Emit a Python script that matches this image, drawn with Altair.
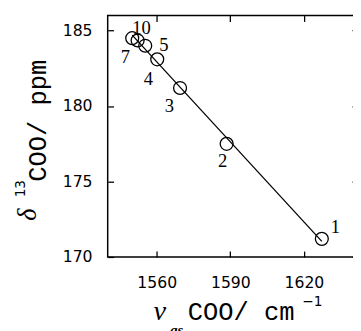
import altair as alt
import pandas as pd

# ---- data ----
compounds = ["1", "2", "3", "4", "5", "7", "10"]
nu_as = [1627.3, 1588.5, 1569.5, 1560.2, 1555.3, 1550.0, 1552.2]
delta13c = [171.2, 177.5, 181.2, 183.1, 184.0, 184.5, 184.35]

x_ticks = [1560, 1590, 1620]
y_ticks = [170, 175, 180, 185]
x_domain = [1540, 1642]
y_domain = [170, 186]

df = pd.DataFrame({"label": compounds, "nu": nu_as, "delta": delta13c})

# label placement (pixel offsets from each circle)
label_offsets = {"1": (14, -12), "2": (-4, 18), "3": (-11, 19), "4": (-9, 20),
                 "5": (19, -1), "7": (-7, 19.5), "10": (4, -12.5)}

W, H = 256, 247
xs = alt.Scale(domain=x_domain, nice=False, zero=False)
ys = alt.Scale(domain=y_domain, nice=False, zero=False)

ax_common = dict(grid=False, domain=False, tickSize=6, offset=-6, tickColor="black",
                 tickWidth=1.3, title=None)
x_axis = alt.Axis(orient="bottom", values=x_ticks, format="d", labelFont="DejaVu Sans",
                  labelFontSize=16, labelColor="black", labelPadding=18, **ax_common)
y_axis = alt.Axis(orient="left", values=y_ticks, format="d", labelFont="DejaVu Sans",
                  labelFontSize=16, labelColor="black", labelPadding=16, **ax_common)
x_axis_top = alt.Axis(orient="top", values=x_ticks, labels=False, **ax_common)
y_axis_right = alt.Axis(orient="right", values=y_ticks, labels=False, **ax_common)

base = alt.Chart(df)

points = base.mark_point(shape="circle", size=175, filled=False, stroke="black",
                         strokeWidth=1.3, opacity=1).encode(
    x=alt.X("nu:Q", scale=xs, axis=x_axis),
    y=alt.Y("delta:Q", scale=ys, axis=y_axis),
)

mirror = base.mark_point(opacity=0).encode(
    x=alt.X("nu:Q", scale=xs, axis=x_axis_top),
    y=alt.Y("delta:Q", scale=ys, axis=y_axis_right),
)

fit = base.transform_regression("nu", "delta").mark_line(color="black", strokeWidth=1.3).encode(
    x=alt.X("nu:Q", scale=xs, axis=None),
    y=alt.Y("delta:Q", scale=ys, axis=None),
)

label_layers = []
for lab, (dx, dy) in label_offsets.items():
    label_layers.append(
        base.transform_filter(alt.datum.label == lab).mark_text(
            font="Liberation Serif", fontSize=19, color="black", dx=dx, dy=dy,
            align="center", baseline="middle").encode(
            x=alt.X("nu:Q", scale=xs, axis=None),
            y=alt.Y("delta:Q", scale=ys, axis=None),
            text="label:N",
        )
    )

one = pd.DataFrame({"a": [0]})


def txt(s, x, y, font, size, angle=0, style="normal", weight="normal", align="left"):
    kw = dict(text=s, font=font, fontSize=size, color="black", align=align,
              baseline="alphabetic", fontStyle=style, fontWeight=weight)
    if angle:
        kw["angle"] = angle
    return alt.Chart(one).mark_text(**kw).encode(x=alt.value(x), y=alt.value(y))


titles = [
    # y title: δ 13 COO/ ppm (reads bottom to top)
    txt("δ", -73, 210, "Liberation Serif", 27, angle=270, style="italic"),
    txt("13", -85, 186, "DejaVu Sans", 14, angle=270),
    txt("COO/ ppm", -63, 170, "Liberation Mono", 26, angle=270),
    # x title: ν_as COO/ cm^-1
    txt("ν", 47, 312, "Liberation Serif", 29, style="italic"),
    txt("as", 64, 327, "Liberation Serif", 15, style="italic", weight="bold"),
    txt("COO/ cm", 82, 311, "Liberation Mono", 26),
    txt("−1", 199, 297, "DejaVu Sans", 14),
]

chart = alt.layer(points, mirror, fit, *label_layers, *titles).resolve_axis(
    x="independent", y="independent"
).properties(
    width=W, height=H,
    autosize=alt.AutoSizeParams(type="none"),
    padding={"left": 102, "top": 4, "right": -5, "bottom": 72},
).configure_view(stroke="black", strokeWidth=1.5)

chart.save("out.html", embed_options={"renderer": "svg", "actions": False})
